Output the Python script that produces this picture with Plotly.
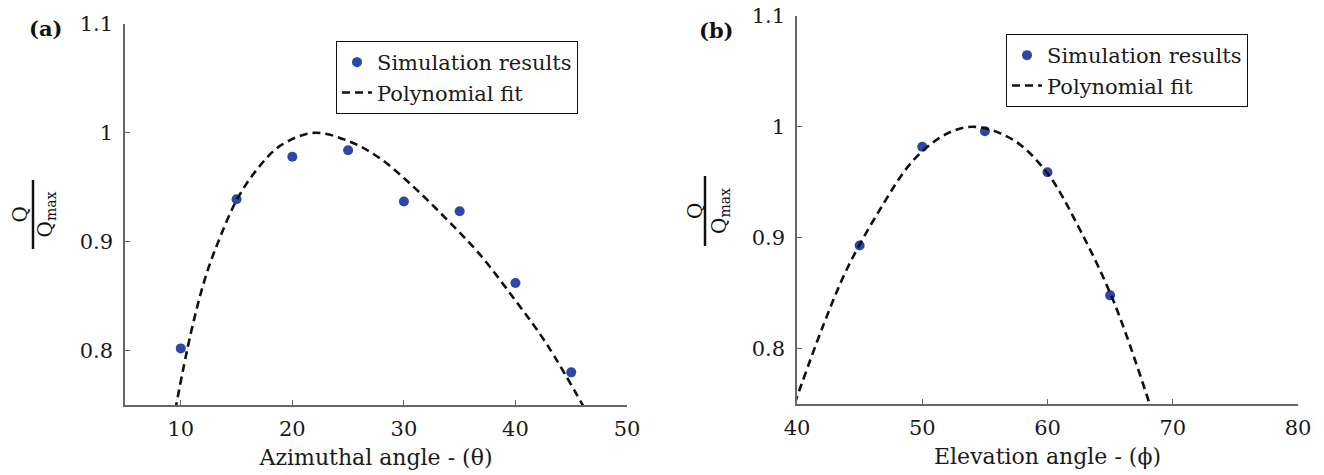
import plotly.graph_objects as go

# Panel (a): azimuthal angle sweep
theta = [10, 15, 20, 25, 30, 35, 40, 45]
q_theta = [0.802, 0.939, 0.978, 0.984, 0.937, 0.928, 0.862, 0.780]
fit_theta = [9.5, 10.9, 12.2, 13.4, 15.05, 16.8, 18.9, 21.9, 24.9, 27.8, 30.8, 33.8, 36.75, 40.0, 42.8, 46.3]
fit_q_theta = [0.745, 0.816, 0.867, 0.901, 0.939, 0.966, 0.988, 1.000, 0.993, 0.977, 0.951, 0.921, 0.889, 0.846, 0.806, 0.745]

# Panel (b): elevation angle sweep
phi = [45, 50, 55, 60, 65]
q_phi = [0.893, 0.982, 0.996, 0.959, 0.848]
fit_phi = [39.8, 42.1, 44.0, 46.6, 49.3, 52.0, 54.2, 57.3, 60.0, 62.6, 65.3, 68.3]
fit_q_phi = [0.750, 0.821, 0.872, 0.925, 0.970, 0.994, 1.000, 0.988, 0.958, 0.907, 0.842, 0.745]

y_ticks = [0.8, 0.9, 1.0, 1.1]
y_ticktext = ["0.8", "0.9", "1", "1.1"]
theta_ticks = [10, 20, 30, 40, 50]
phi_ticks = [40, 50, 60, 70, 80]

W, H = 1324, 475
FONT = "DejaVu Serif, Liberation Serif, serif"
MARKER = "#2c47a8"
AXIS = "#666666"
TXT = "#1a1a1a"

def px_x(p):
    return p / W

def px_y(p):
    return 1 - p / H

fig = go.Figure()

fig.add_trace(go.Scatter(x=theta, y=q_theta, mode="markers", name="Simulation results",
                         marker=dict(color=MARKER, size=10), xaxis="x", yaxis="y", legend="legend"))
fig.add_trace(go.Scatter(x=fit_theta, y=fit_q_theta, mode="lines", name="Polynomial fit",
                         line=dict(color="#111111", width=2.6, dash="8px,5px", shape="spline", smoothing=1),
                         xaxis="x", yaxis="y", legend="legend"))
fig.add_trace(go.Scatter(x=phi, y=q_phi, mode="markers", name="Simulation results",
                         marker=dict(color=MARKER, size=10), xaxis="x2", yaxis="y2", legend="legend2"))
fig.add_trace(go.Scatter(x=fit_phi, y=fit_q_phi, mode="lines", name="Polynomial fit",
                         line=dict(color="#111111", width=2.6, dash="8px,5px", shape="spline", smoothing=1),
                         xaxis="x2", yaxis="y2", legend="legend2"))

tick_font = dict(family=FONT, size=21, color=TXT)
title_font = dict(family=FONT, size=22, color=TXT)

common_x = dict(showgrid=False, zeroline=False, showline=True, linecolor=AXIS, linewidth=1.5,
                ticks="inside", ticklen=5, tickcolor=AXIS, tickwidth=1.2, tickfont=tick_font,
                title_font=title_font, title_standoff=10, ticklabelstandoff=4, automargin=False)
common_y = dict(showgrid=False, zeroline=False, showline=True, linecolor=AXIS, linewidth=1.5,
                ticks="inside", ticklen=5, tickcolor=AXIS, tickwidth=1.2, tickfont=tick_font,
                range=[0.75, 1.1], tickvals=y_ticks, ticktext=y_ticktext, ticklabelstandoff=6,
                automargin=False)

legend_style = dict(xanchor="left", yanchor="top", bordercolor="#111111", borderwidth=1,
                    bgcolor="white", font=dict(family=FONT, size=21, color=TXT), tracegroupgap=0)

fig.update_layout(
    width=W, height=H,
    margin=dict(l=0, r=0, t=0, b=0, autoexpand=False),
    paper_bgcolor="white", plot_bgcolor="white",
    font=dict(family=FONT, color=TXT),
    xaxis=dict(common_x, domain=[px_x(125), px_x(627)], range=[5, 50], tickvals=theta_ticks,
               anchor="y", title_text="Azimuthal angle - (θ)"),
    yaxis=dict(common_y, domain=[px_y(405), px_y(24)], anchor="x"),
    xaxis2=dict(common_x, domain=[px_x(797), px_x(1298)], range=[40, 80], tickvals=phi_ticks,
                anchor="y2", title_text="Elevation angle - (ϕ)"),
    yaxis2=dict(common_y, domain=[px_y(404), px_y(16)], anchor="x2"),
    legend=dict(legend_style, x=px_x(336), y=px_y(41)),
    legend2=dict(legend_style, x=px_x(1006), y=px_y(34)),
    showlegend=True,
)

# Panel letters
fig.add_annotation(x=px_x(45), y=px_y(28), xref="paper", yref="paper", text="<b>(a)</b>",
                   xanchor="center", yanchor="middle",
                   showarrow=False, font=dict(family=FONT, size=21, color="#111111"))
fig.add_annotation(x=px_x(716), y=px_y(31), xref="paper", yref="paper", text="<b>(b)</b>",
                   xanchor="center", yanchor="middle",
                   showarrow=False, font=dict(family=FONT, size=21, color="#111111"))

# Rotated Q / Q_max fraction labels for both y axes
for q_x, bar_x, qm_x, y_top, y_bot in [(19, 33, 45, 180, 249), (695, 705, 720, 176, 246)]:
    yc = (y_top + y_bot) / 2
    fig.add_annotation(x=px_x(q_x), y=px_y(yc), xref="paper", yref="paper", text="Q",
                       xanchor="center", yanchor="middle",
                       textangle=-90, showarrow=False, font=dict(family=FONT, size=20, color="#111111"))
    fig.add_annotation(x=px_x(qm_x), y=px_y(yc), xref="paper", yref="paper", text="Q<sub>max</sub>",
                       xanchor="center", yanchor="middle",
                       textangle=-90, showarrow=False, font=dict(family=FONT, size=20, color="#111111"))
    fig.add_shape(type="line", xref="paper", yref="paper", x0=px_x(bar_x), x1=px_x(bar_x),
                  y0=px_y(y_top), y1=px_y(y_bot), line=dict(color="#111111", width=2.5))

fig.write_html("out.html")
